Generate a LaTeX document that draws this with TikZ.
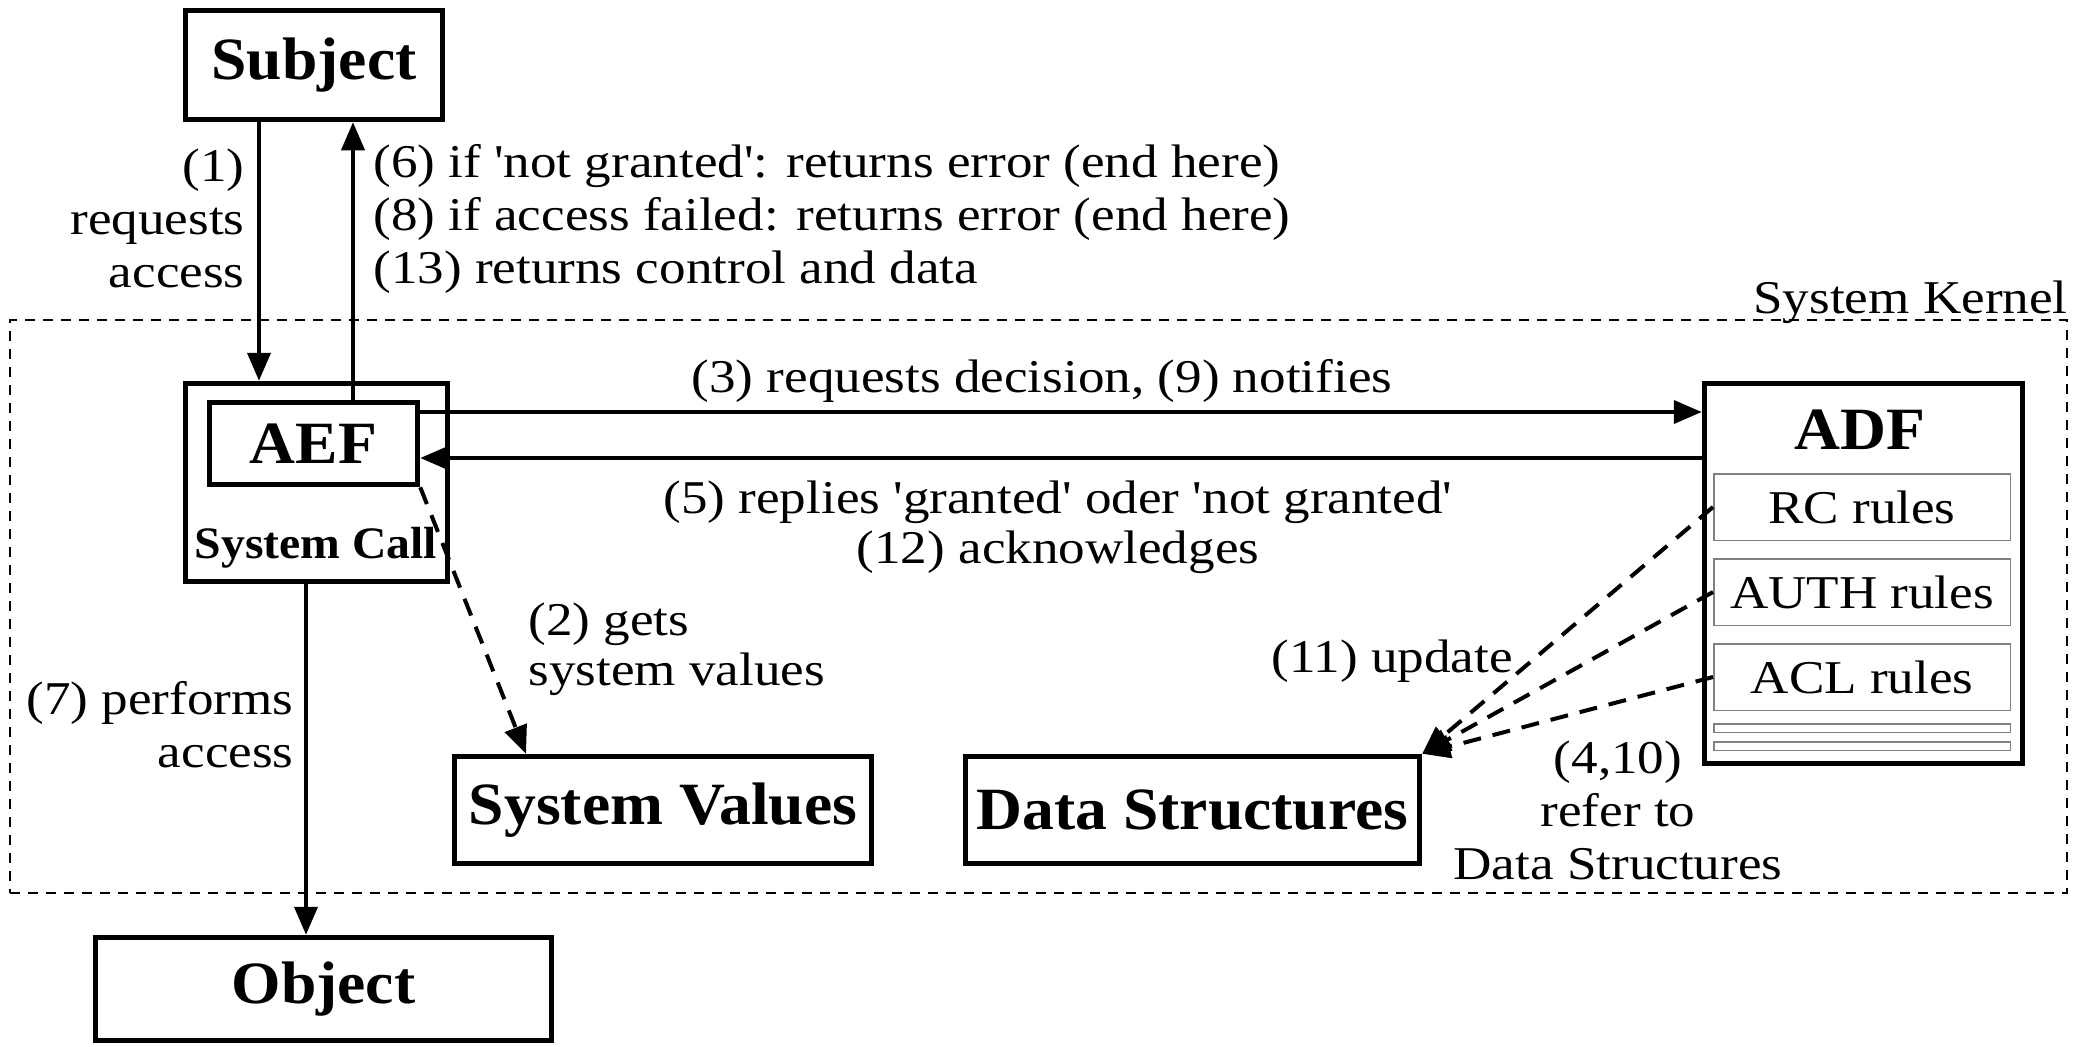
\documentclass[tikz,border=0pt]{standalone}
\usepackage{fontspec}
\setmainfont{Liberation Serif}[FakeStretch=1.13]
\newfontfamily\labfont{Liberation Serif}[FakeStretch=1.13]
\newfontfamily\boxfont{Liberation Serif}[FakeStretch=1.06]
\usetikzlibrary{arrows.meta,calc}
\tikzset{
  lab/.style={font=\labfont\fontsize{23.5}{26.5}\selectfont, inner sep=0pt},
  labtight/.style={font=\labfont\fontsize{23.5}{25}\selectfont, inner sep=0pt},
  boxlab/.style={font=\boxfont\bfseries\fontsize{30}{36}\selectfont},
  box/.style={draw, line width=2.75pt, inner sep=0pt, boxlab},
  rulebox/.style={draw=gray, line width=0.75pt, inner sep=0pt, minimum width=148.25pt, minimum height=33.25pt, font=\labfont\fontsize{23.5}{26.5}\selectfont},
  barbox/.style={draw=gray, line width=0.75pt, inner sep=0pt, minimum width=148.25pt, minimum height=4.25pt},
  conn/.style={line width=2pt, -{Triangle[length=14pt,width=11.5pt]}},
  dconn/.style={conn, dash pattern=on 9pt off 6pt},
  kernelbox/.style={draw, line width=1pt, dash pattern=on 5pt off 4pt, inner sep=0pt},
}
\begin{document}
\begin{tikzpicture}[x=0.5pt,y=-0.5pt]
\useasboundingbox (0,0) rectangle (2077,1046);
% kernel
\node[kernelbox, minimum width=1028.5pt, minimum height=286.5pt] (kernel) at (1038.5,606.5) {};
\node[lab, anchor=base east] (kerneltxt) at (2068,313) {System Kernel};
% boxes
\node[box, minimum width=128.5pt, minimum height=54.5pt] (subject) at (314,65) {Subject};
\node[box, minimum width=131pt, minimum height=99pt] (syscall) at (316.5,482.5) {};
\node[box, minimum width=104pt, minimum height=41pt] (aef) at (313.5,443.5) {AEF};
\node[font=\boxfont\bfseries\fontsize{22.5}{27}\selectfont, inner sep=0pt] (sctxt) at (316,548) {System Call};
\node[box, minimum width=159pt, minimum height=190pt] (adf) at (1863.5,573.5) {};
\node[boxlab, inner sep=0pt] (adftxt) at (1860,430) {ADF};
\node[rulebox] (rc) at (1862,507) {RC rules};
\node[rulebox] (auth) at (1862,592) {AUTH rules};
\node[rulebox] (acl) at (1862,677) {ACL rules};
\node[barbox] (bar1) at (1862,728) {};
\node[barbox] (bar2) at (1862,746) {};
\node[box, minimum width=208.5pt, minimum height=53.5pt] (sysval) at (663,810) {System Values};
\node[box, minimum width=227pt, minimum height=53.5pt] (ds) at (1192.5,810) {Data Structures};
\node[box, minimum width=228pt, minimum height=51.5pt] (object) at (323.5,989) {Object};
% helper coordinates
\coordinate (xa) at (259,0);
\coordinate (xb) at (353,0);
\coordinate (xc) at (306,0);
\coordinate (xd) at (526,0);
\coordinate (ya) at (0,412);
\coordinate (yb) at (0,458);
% connectors
\draw[conn] (subject.south -| xa) -- (syscall.north -| xa);
\draw[conn] (aef.north -| xb) -- (subject.south -| xb);
\draw[conn] (aef.east |- ya) -- (adf.west |- ya);
\draw[conn] (adf.west |- yb) -- (aef.east |- yb);
\draw[dconn] (aef.south east) -- (sysval.north -| xd);
\draw[conn] (syscall.south -| xc) -- (object.north -| xc);
\draw[dconn] (rc.west) -- (ds.north east);
\draw[dconn] (auth.west) -- (ds.north east);
\draw[dconn] (acl.west) -- (ds.north east);
% labels
\node[lab, align=right, anchor=east] (l1) at (245,218) {(1)\\requests\\access};
\node[lab, align=left, anchor=west] (l6) at (373,219) {(6) if 'not granted': returns error (end here)\\(8) if access failed: returns error (end here)\\(13) returns control and data};
\node[lab] (l3) at (1042,381) {(3) requests decision, (9) notifies};
\node[labtight, align=center] (l5) at (1058,527) {(5) replies 'granted' oder 'not granted'\\(12) acknowledges};
\node[labtight, align=left, anchor=west] (l2) at (528,649) {(2) gets\\system values};
\node[lab] (l11) at (1392,661) {(11) update};
\node[lab, align=center] (l4) at (1618,810) {(4,10)\\refer to\\Data Structures};
\node[lab, align=right, anchor=east] (l7) at (294,725) {(7) performs\\access};
\end{tikzpicture}
\end{document}
